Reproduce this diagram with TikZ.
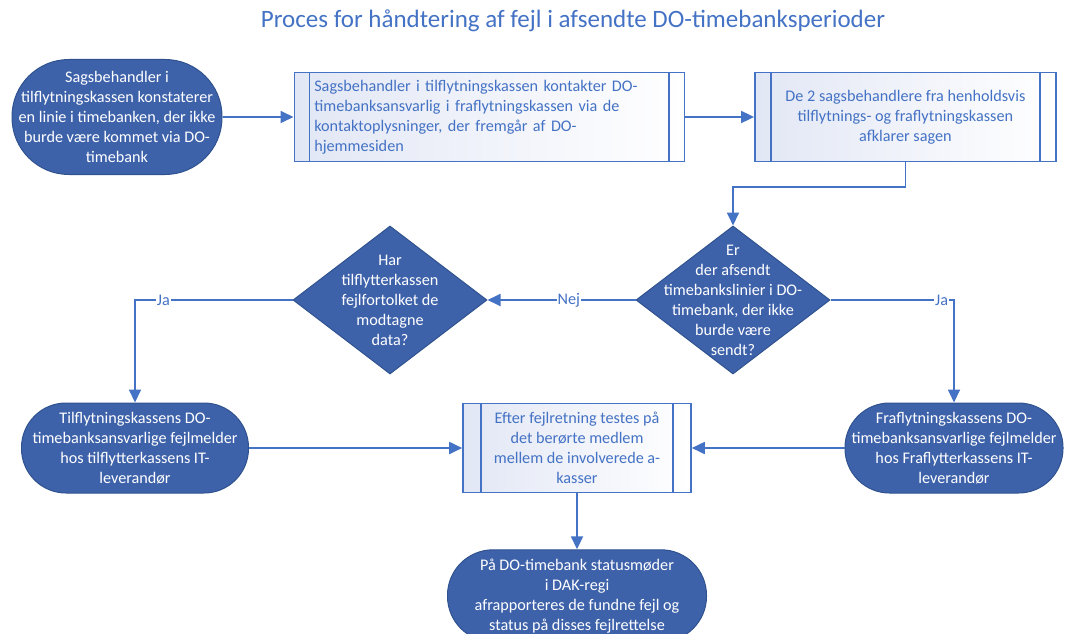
\documentclass[tikz,border=0pt]{standalone}
\usepackage{fontspec}
\setmainfont{Carlito}
\usetikzlibrary{shapes.geometric,arrows.meta,positioning}
\definecolor{flowblue}{RGB}{68,114,196}
\definecolor{termfill}{RGB}{62,98,170}
\definecolor{termline}{RGB}{47,82,143}
\definecolor{boxtint}{RGB}{226,231,245}

\begin{document}
\begin{tikzpicture}[x=1pt, y=-1pt, every node/.style={font=\fontsize{16.2}{20}\selectfont},
    terminal/.style={draw=termline, line width=1pt, fill=termfill, rounded corners=#1, text=white, align=center, inner sep=0pt},
    procbox/.style={draw=flowblue, line width=1.6pt, left color=boxtint, right color=white, text=flowblue, inner sep=0pt},
    decision/.style={diamond, draw=termline, line width=1pt, fill=termfill, inner sep=0pt, minimum width=194pt, minimum height=148pt},
    flow/.style={-{Triangle[length=13pt, width=12pt]}, flowblue, line width=1.8pt},
    answer/.style={fill=white, text=flowblue, inner sep=1pt}]
			\useasboundingbox (0,0) rectangle (1073,634);
			\node[text=flowblue, font=\fontsize{25}{30}\selectfont] (title) at (573,21) {Proces for håndtering af fejl i afsendte DO-timebanksperioder};
			
			% first row
			\node[terminal=57pt, minimum width=210pt, minimum height=115pt] (start) at (117,117)
			{Sagsbehandler i\\tilflytningskassen konstaterer\\en linie i timebanken, der ikke\\burde være kommet via DO-\\timebank};
			\node[procbox, right=71pt of start, minimum width=390pt, minimum height=89pt, text width=350pt, align=left] (contact)
			{Sagsbehandler i tilflytningskassen kontakter DO-\\timebanksansvarlig i fraflytningskassen via de\\kontaktoplysninger, der fremgår af DO-\\hjemmesiden};
			\node[procbox, right=69pt of contact, minimum width=301pt, minimum height=89pt, align=center] (clarify)
			{De 2 sagsbehandlere fra henholdsvis\\tilflytnings- og fraflytningskassen\\afklarer sagen};
			
			% questions
			\node[decision] (sent) at (733,300) {};
			\node[text=white, align=center] at (sent) {Er\\der afsendt\\timebankslinier i DO-\\timebank, der ikke\\burde være\\sendt?};
			\node[decision, left=148pt of sent] (misread) {};
			\node[text=white, align=center] at (misread) {Har\\tilflytterkassen\\fejlfortolket de\\modtagne\\data?};
			
			% reports
			\node[terminal=44.5pt, minimum width=227pt, minimum height=90pt] (tilrep) at (135,448)
			{Tilflytningskassens DO-\\timebanksansvarlige fejlmelder\\hos tilflytterkassens IT-\\leverandør};
			\node[terminal=44.5pt, minimum width=218pt, minimum height=90pt] (frarep) at (954,448)
			{Fraflytningskassens DO-\\timebanksansvarlige fejlmelder\\hos Fraflytterkassens IT-\\leverandør};
			\node[procbox, minimum width=228pt, minimum height=89pt, align=center] (test) at (577,448)
			{Efter fejlretning testes på\\det berørte medlem\\mellem de involverede a-\\kasser};
			\node[terminal=45.5pt, below=56pt of test, minimum width=259pt, minimum height=92pt] (status)
			{På DO-timebank statusmøder\\i DAK-regi\\afrapporteres de fundne fejl og\\status på disses fejlrettelse};
			
			% inner bars of the process boxes
			\foreach \b/\w in {contact/16, clarify/17, test/19} {
				\draw[flowblue, line width=1.6pt] ([xshift=\w pt]\b.north west) -- ([xshift=\w pt]\b.south west);
				\draw[flowblue, line width=1.6pt] ([xshift=-\w pt]\b.north east) -- ([xshift=-\w pt]\b.south east);
			}
			
			\draw[flow] (start) -- (contact);
			\draw[flow] (contact) -- (clarify);
			\draw[flow] (clarify.south) |- ++(0,25) -| (sent.north);
			\draw[flow] (sent.west) -- node[answer, pos=0.45] {Nej} (misread.east);
			\draw[flow] (misread.west) -| node[answer, pos=0.41] {Ja} (tilrep.north);
			\draw[flow] (sent.east) -| node[answer, pos=0.45] {Ja} (frarep.north);
			\draw[flow] (tilrep) -- (test);
			\draw[flow] (frarep) -- (test);
			\draw[flow] (test) -- (status);
		\end{tikzpicture}
\end{document}
